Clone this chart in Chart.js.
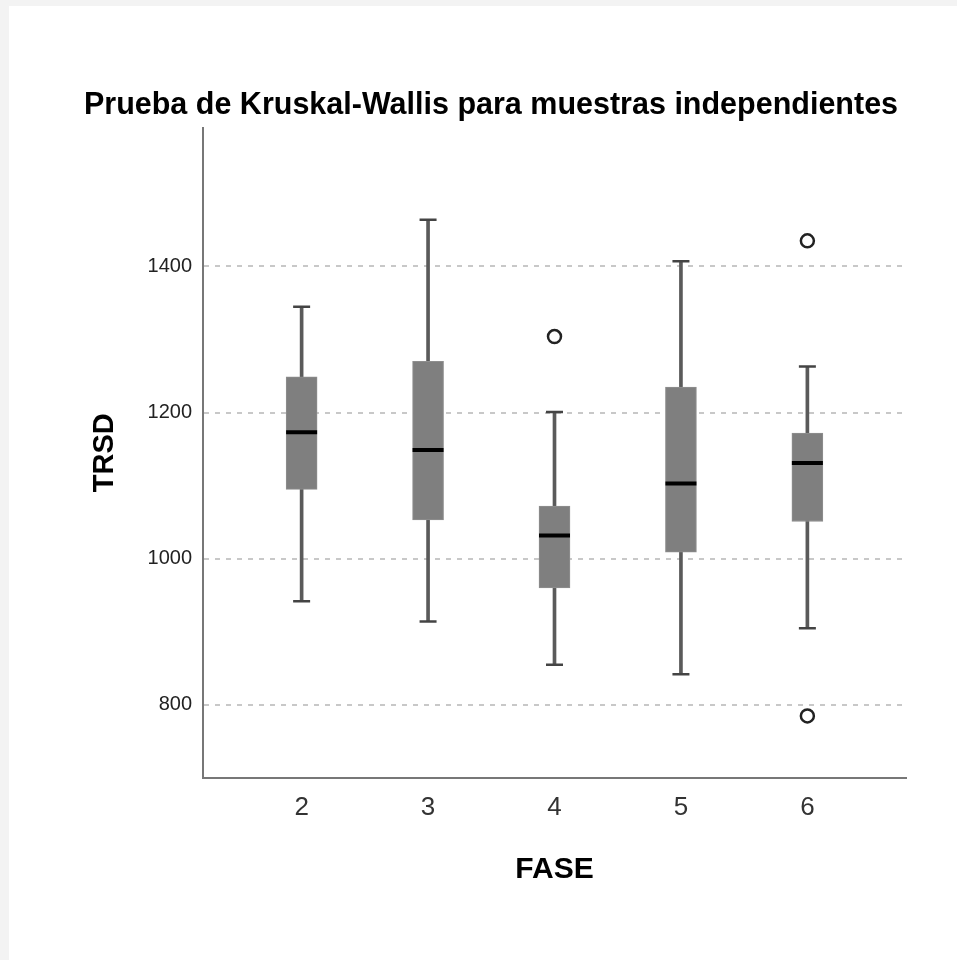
<!DOCTYPE html>
<html>
<head>
<meta charset="utf-8">
<script src="https://cdn.jsdelivr.net/npm/chart.js@4"></script>
<style>
  html, body { margin: 0; padding: 0; background: #f3f3f3; }
  #wrap { position: absolute; left: 9px; top: 6px; width: 948px; height: 954px; background: #ffffff; }
</style>
</head>
<body>
<div id="wrap"><canvas id="chart" width="948" height="954"></canvas></div>
<script>
// FASE groups and box plot summary values (TRSD)
const fases = [2, 3, 4, 5, 6];
const whiskerLow = [942, 914, 855, 842, 905];
const q1 = [1095, 1053, 960, 1009, 1051];
const medians = [1173, 1149, 1032, 1103, 1131];
const q3 = [1249, 1270, 1072, 1235, 1172];
const whiskerHigh = [1345, 1464, 1201, 1407, 1263];
const outliers = [
  { fase: 4, value: 1304 },
  { fase: 6, value: 1435 },
  { fase: 6, value: 785 }
];
const yTicks = [800, 1000, 1200, 1400];

const font = 'Arial, "Liberation Sans", sans-serif';

const ctx = document.getElementById('chart').getContext('2d');

const chart = new Chart(ctx, {
  type: 'bar',
  data: {
    datasets: [
      {
        // whisker stems
        type: 'bar',
        data: fases.map((f, i) => ({ x: f, y: [whiskerLow[i], whiskerHigh[i]] })),
        backgroundColor: '#5a5a5a',
        barThickness: 3,
        grouped: false,
        order: 5
      },
      {
        // boxes q1..q3
        type: 'bar',
        data: fases.map((f, i) => ({ x: f, y: [q1[i], q3[i]] })),
        backgroundColor: '#7f7f7f',
        borderColor: '#8f8f8f',
        borderWidth: 1,
        borderSkipped: false,
        barThickness: 31,
        grouped: false,
        order: 3
      },
      {
        // whisker caps
        type: 'scatter',
        data: fases.flatMap((f, i) => [{ x: f, y: whiskerLow[i] }, { x: f, y: whiskerHigh[i] }]),
        pointStyle: 'line',
        radius: 8.5,
        borderWidth: 2.5,
        borderColor: '#444444',
        order: 2
      },
      {
        // medians
        type: 'scatter',
        data: fases.map((f, i) => ({ x: f, y: medians[i] })),
        pointStyle: 'line',
        radius: 15.5,
        borderWidth: 4,
        borderColor: '#000000',
        order: 1
      },
      {
        // outliers
        type: 'scatter',
        data: outliers.map(o => ({ x: o.fase, y: o.value })),
        pointStyle: 'circle',
        radius: 6.5,
        borderWidth: 2.5,
        borderColor: '#222222',
        backgroundColor: '#ffffff',
        order: 1
      }
    ]
  },
  options: {
    responsive: false,
    animation: false,
    events: [],
    layout: { padding: { left: 67, right: 51, top: 0, bottom: 0 } },
    plugins: {
      legend: { display: false },
      tooltip: { enabled: false },
      title: {
        display: true,
        text: 'Prueba de Kruskal-Wallis para muestras independientes',
        color: '#000000',
        font: { family: font, size: 30.5, weight: 'bold' },
        padding: { top: 81, bottom: 4 }
      }
    },
    scales: {
      x: {
        type: 'linear',
        offset: false,
        min: 1.22,
        max: 6.78,
        afterBuildTicks: axis => { axis.ticks = fases.map(v => ({ value: v })); },
        afterFit: scale => { scale.height = 182; },
        grid: { display: false, drawTicks: false },
        border: { display: true, color: '#777777', width: 2 },
        ticks: {
          padding: 14,
          color: '#333333',
          font: { family: font, size: 26 }
        },
        title: {
          display: true,
          text: 'FASE',
          color: '#000000',
          font: { family: font, size: 30, weight: 'bold' },
          padding: { top: 0, bottom: 72 }
        }
      },
      y: {
        min: 700,
        max: 1590,
        afterBuildTicks: axis => { axis.ticks = yTicks.map(v => ({ value: v })); },
        afterFit: scale => { scale.width = 127; },
        grid: { color: '#c8c8c8', lineWidth: 2, drawTicks: false },
        border: { display: true, color: '#777777', width: 2, dash: [5, 6] },
        ticks: {
          padding: 11,
          color: '#222222',
          font: { family: font, size: 20 },
          callback: v => String(v)
        },
        title: {
          display: true,
          text: 'TRSD',
          color: '#000000',
          font: { family: font, size: 29, weight: 'bold' },
          padding: { top: 12, bottom: 0 }
        }
      }
    }
  }
});
</script>
</body>
</html>
